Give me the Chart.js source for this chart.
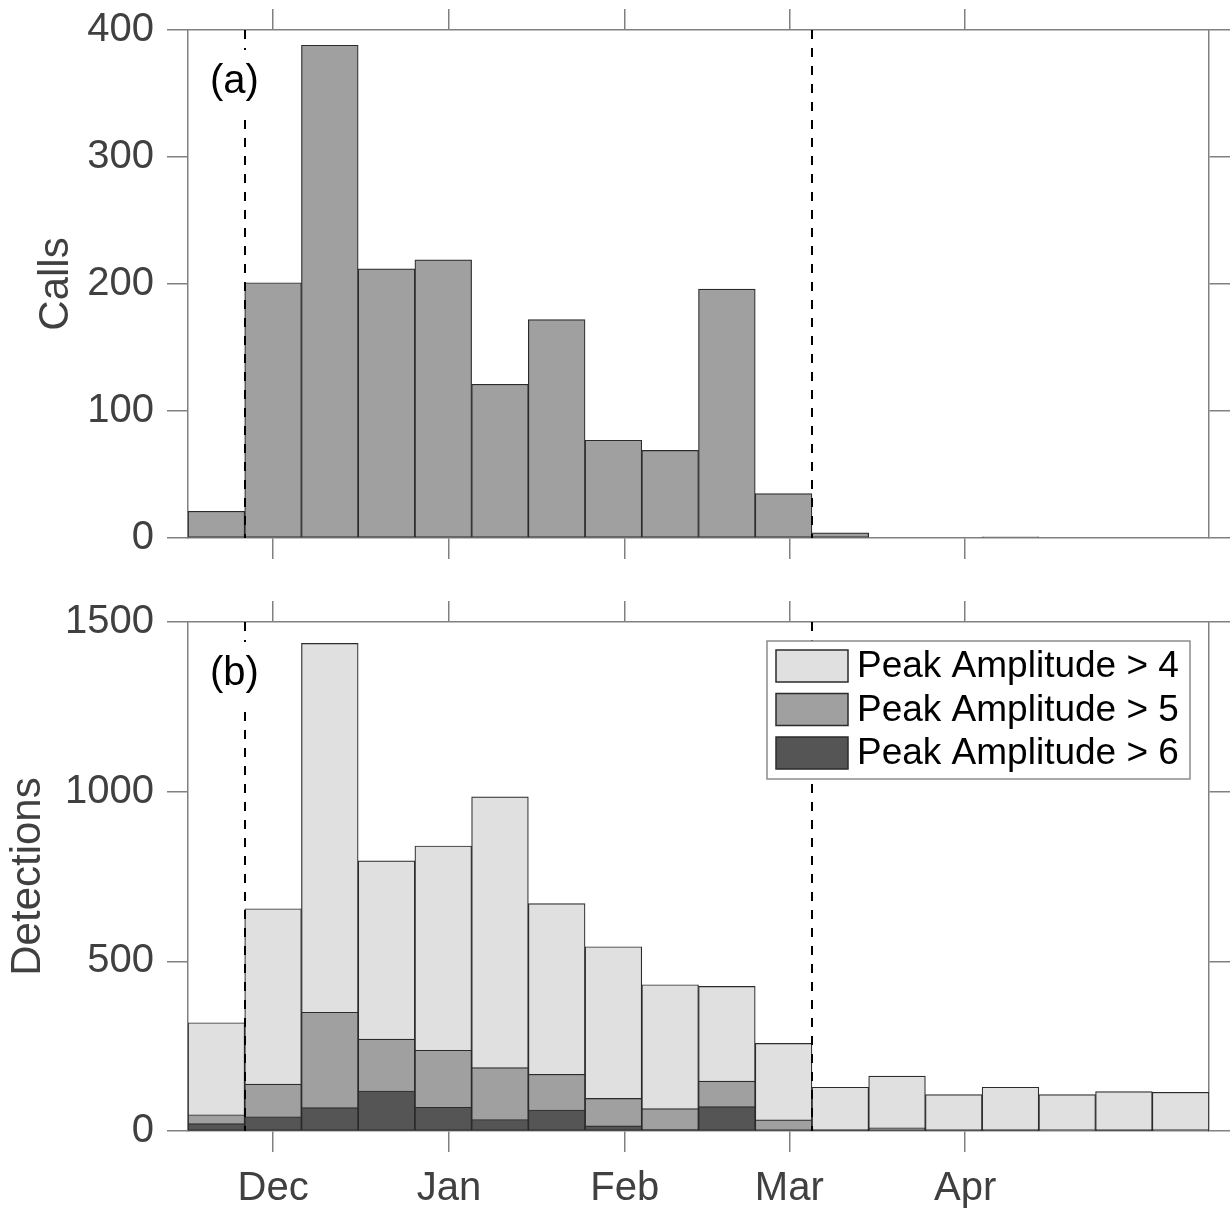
<!DOCTYPE html>
<html>
<head>
<meta charset="utf-8">
<title>Calls and detections</title>
<script src="https://cdn.jsdelivr.net/npm/chart.js@4.4.1/dist/chart.umd.min.js"></script>
<style>
  html, body { margin: 0; padding: 0; background: #fff; }
  #wrap { position: relative; width: 1232px; height: 1208px; }
  canvas { position: absolute; left: 0; }
  #calls-chart { top: 0; }
  #detections-chart { top: 580px; }
</style>
</head>
<body>
<div id="wrap">
  <canvas id="calls-chart" width="1232" height="580"></canvas>
  <canvas id="detections-chart" width="1232" height="628"></canvas>
</div>
<script>
// 10-day bins, start of each bin in days after 16 Nov
const binStartDay = [0, 10, 20, 30, 40, 50, 60, 70, 80, 90, 100, 110, 120, 130, 140, 150, 160, 170];
const binWidthDays = 10;
const axisEndDay = 180;

// first of each month, in days after 16 Nov
const monthTickDay = [15, 46, 77, 106, 137];
const monthLabels = ['Dec', 'Jan', 'Feb', 'Mar', 'Apr'];

// dashed markers (26 Nov and 6 Mar)
const markerDays = [10, 110];

// (a) calls per bin
const callCounts = [21, 201, 388, 212, 219, 121, 172, 77, 69, 196, 35, 4, 0, 0, 1, 0, 0, 0];

// (b) detections per bin for each amplitude threshold
const detAbove4 = [319, 655, 1437, 796, 840, 985, 670, 543, 431, 426, 258, 129, 162, 107, 129, 107, 116, 114];
const detAbove5 = [48, 138, 350, 271, 238, 187, 167, 96, 66, 147, 33, 5, 9, 2, 5, 2, 3, 1];
const detAbove6 = [22, 42, 69, 118, 70, 34, 62, 15, 5, 72, 2, 1, 2, 1, 2, 0, 1, 0];

const seriesLabels = ['Peak Amplitude > 4', 'Peak Amplitude > 5', 'Peak Amplitude > 6'];

const FONT = "'Liberation Sans', Arial, Helvetica, sans-serif";
const AXIS_GRAY = '#808080';
const TEXT_GRAY = '#404040';
const EDGE = '#2b2b2b';
const TICK_LEN = 21;

// turn a count list into {x, y} points at the bin centres
function binPoints(values) {
    return values.map((v, i) => ({ x: binStartDay[i] + binWidthDays / 2, y: v }));
}

// fixed box size, and no extra room reserved for overhanging labels
function fixSize(scale, size) {
    if (scale.isHorizontal()) {
        scale.height = size;
    } else {
        scale.width = size;
    }
    scale.paddingTop = 0;
    scale.paddingBottom = 0;
    scale.paddingLeft = 0;
    scale.paddingRight = 0;
}

function monthAxis(position, showLabels, boxHeight) {
    return {
        type: 'linear',
        position: position,
        min: 0,
        max: axisEndDay,
        offset: false,
        afterBuildTicks: (scale) => {
            scale.ticks = monthTickDay.map(v => ({ value: v }));
        },
        afterFit: (scale) => fixSize(scale, boxHeight),
        grid: { offset: false, drawOnChartArea: false, drawTicks: true, tickLength: TICK_LEN, color: AXIS_GRAY, lineWidth: 1.5 },
        border: { display: true, color: AXIS_GRAY, width: 1.5 },
        ticks: {
            display: showLabels,
            autoSkip: false,
            maxRotation: 0,
            padding: 13,
            color: TEXT_GRAY,
            font: { family: FONT, size: 40 },
            callback: (v, i) => monthLabels[i]
        }
    };
}

function countAxis(position, max, step, title, titlePad) {
    return {
        type: 'linear',
        position: position,
        min: 0,
        max: max,
        afterFit: (scale) => fixSize(scale, position === 'left' ? 188 : 23),
        grid: { drawOnChartArea: false, drawTicks: true, tickLength: TICK_LEN, color: AXIS_GRAY, lineWidth: 1.5 },
        border: { display: true, color: AXIS_GRAY, width: 1.5 },
        ticks: {
            display: position === 'left',
            stepSize: step,
            padding: 13,
            color: TEXT_GRAY,
            font: { family: FONT, size: 40 },
            callback: (v) => String(v)
        },
        title: {
            display: !!title,
            text: title || '',
            color: TEXT_GRAY,
            font: { family: FONT, size: 42 },
            padding: { top: titlePad || 0, bottom: 0 }
        }
    };
}

// vertical dashed markers
const markerLines = {
    id: 'markerLines',
    afterDatasetsDraw(chart) {
        const { ctx, chartArea, scales } = chart;
        ctx.save();
        ctx.strokeStyle = '#000';
        ctx.lineWidth = 2;
        ctx.setLineDash([9, 9]);
        markerDays.forEach(d => {
            const x = Math.round(scales.x.getPixelForValue(d));
            ctx.beginPath();
            ctx.moveTo(x, chartArea.top);
            ctx.lineTo(x, chartArea.bottom);
            ctx.stroke();
        });
        ctx.restore();
    }
};

// "(a)" / "(b)" in the upper left corner, on a white patch
const panelLabel = {
    id: 'panelLabel',
    afterDatasetsDraw(chart, args, opts) {
        const { ctx, chartArea } = chart;
        ctx.save();
        ctx.fillStyle = '#fff';
        ctx.fillRect(chartArea.left + 17, chartArea.top + 20, 63, 64);
        ctx.fillStyle = '#000';
        ctx.font = '40px ' + FONT;
        ctx.textAlign = 'left';
        ctx.textBaseline = 'middle';
        ctx.fillText(opts.text, chartArea.left + 22, chartArea.top + 52);
        ctx.restore();
    }
};

// boxed legend in the upper right corner
const boxLegend = {
    id: 'boxLegend',
    afterDraw(chart) {
        const { ctx, chartArea } = chart;
        const boxW = 423, boxH = 138;
        const x0 = chartArea.right - 19 - boxW;
        const y0 = chartArea.top + 19;
        ctx.save();
        ctx.fillStyle = '#fff';
        ctx.fillRect(x0, y0, boxW, boxH);
        ctx.strokeStyle = '#8c8c8c';
        ctx.lineWidth = 1.5;
        ctx.strokeRect(x0, y0, boxW, boxH);
        ctx.font = '37px ' + FONT;
        ctx.textAlign = 'left';
        ctx.textBaseline = 'middle';
        chart.data.datasets.forEach((ds, i) => {
            const cy = y0 + 25 + i * 43.5;
            ctx.fillStyle = ds.backgroundColor;
            ctx.fillRect(x0 + 9, cy - 16, 72, 32);
            ctx.strokeStyle = EDGE;
            ctx.lineWidth = 1.5;
            ctx.strokeRect(x0 + 9, cy - 16, 72, 32);
            ctx.fillStyle = '#000';
            ctx.fillText(ds.label, x0 + 90, cy + 1);
        });
        ctx.restore();
    }
};

const barDefaults = {
    grouped: false,
    barPercentage: 1,
    categoryPercentage: 1,
    borderWidth: 1.2,
    borderColor: EDGE,
    borderSkipped: false
};

const commonOptions = {
    responsive: false,
    animation: false,
    events: [],
    layout: { padding: 0 },
    datasets: { bar: barDefaults }
};

new Chart(document.getElementById('calls-chart'), {
    type: 'bar',
    data: {
        datasets: [{
            label: 'Calls',
            data: binPoints(callCounts),
            backgroundColor: '#a0a0a0'
        }]
    },
    options: Object.assign({}, commonOptions, {
        scales: {
            x: monthAxis('bottom', false, 42),
            x2: monthAxis('top', false, 30),
            y: countAxis('left', 400, 100, 'Calls', 31),
            y2: countAxis('right', 400, 100)
        },
        plugins: {
            legend: { display: false },
            tooltip: { enabled: false },
            panelLabel: { text: '(a)' }
        }
    }),
    plugins: [markerLines, panelLabel]
});

new Chart(document.getElementById('detections-chart'), {
    type: 'bar',
    data: {
        datasets: [
            { label: seriesLabels[0], data: binPoints(detAbove4), backgroundColor: '#e0e0e0', order: 3 },
            { label: seriesLabels[1], data: binPoints(detAbove5), backgroundColor: '#a0a0a0', order: 2 },
            { label: seriesLabels[2], data: binPoints(detAbove6), backgroundColor: '#555555', order: 1 }
        ]
    },
    options: Object.assign({}, commonOptions, {
        scales: {
            x: monthAxis('bottom', true, 77),
            x2: monthAxis('top', false, 42),
            y: countAxis('left', 1500, 500, 'Detections', 3),
            y2: countAxis('right', 1500, 500)
        },
        plugins: {
            legend: { display: false },
            tooltip: { enabled: false },
            panelLabel: { text: '(b)' }
        }
    }),
    plugins: [markerLines, panelLabel, boxLegend]
});
</script>
</body>
</html>
